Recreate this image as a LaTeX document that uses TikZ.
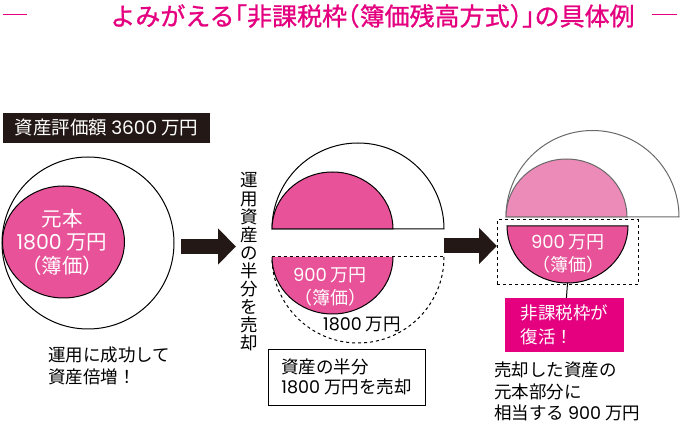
\documentclass[tikz,border=0pt]{standalone}
\usepackage{fontspec}
\setmainfont{Noto Sans CJK JP}
\newfontfamily\numfont{Poppins}
\newfontfamily\titlefont[FakeBold=1]{Noto Sans CJK JP}
\newcommand{\dg}[1]{{\numfont #1}}
\usetikzlibrary{arrows.meta,positioning,calc}
\definecolor{hpink}{RGB}{232,82,152}
\definecolor{hlight}{RGB}{236,138,184}
\definecolor{hmag}{RGB}{228,0,127}
\definecolor{hgray}{RGB}{105,105,105}
\definecolor{hblack}{RGB}{35,24,21}
\begin{document}
\begin{tikzpicture}[x=1pt,y=-1pt,
  lbl/.style={font=\fontsize{17.5}{21.5}\selectfont,align=left,inner sep=0pt},
  wlbl/.style={font=\fontsize{18}{23}\selectfont,text=white,align=center,inner sep=0pt},
  bigarrow/.style={hblack,line width=15pt,-{Triangle[length=18pt,width=35pt]}},
  half/.style={fill=hpink,draw=black,line width=1pt}]
  \useasboundingbox (0,0) rectangle (680,427);

  % title
  \node[font=\titlefont\fontsize{25}{28}\selectfont,text=hmag,inner sep=0pt] (title) at (372.5,16)
    {よみがえる\kern-.5em「非課税枠\kern-.5em（簿価残高方式）\kern-.5em」\kern-.5em の具体例};
  \draw[hmag,line width=0.8pt] (3,14) -- (27,14);
  \draw[hmag,line width=0.8pt] (652,14) -- (677,14);

  % before
  \node[fill=hblack,text=white,minimum width=207pt,minimum height=30pt,inner sep=0pt,
        font=\fontsize{18.5}{20}\selectfont] (value) at (106.5,128) {資産評価額 \dg{3600} 万円};
  \draw[line width=1pt] (88,243) circle (86);
  \draw[half] (63.5,242) ellipse [x radius=61, y radius=56];
  \node[wlbl,font=\fontsize{20.5}{23.5}\selectfont] (base1) at (62,242) {元本\\\dg{1800} 万円\\（簿価）};
  \node[lbl,anchor=west] (grow) at (48,366) {運用に成功して\\資産倍増！};

  \coordinate (a1s) at (181,246.5);
  \coordinate (a1e) at (236,246.5);
  \draw[bigarrow] (a1s) -- (a1e);

  % sell half
  \node[font=\fontsize{17.5}{18.1}\selectfont,align=center,inner sep=0pt] (sell) at (249,262) {運\\用\\資\\産\\の\\半\\分\\を\\売\\却};
  \draw[line width=1pt] (272,229) arc[start angle=180,end angle=360,radius=86] -- cycle;
  \draw[half] (272,229) arc[start angle=180,end angle=360,x radius=60.5,y radius=57] -- cycle;
  \draw[dashed,line width=1pt] (444,257) arc[start angle=0,end angle=180,radius=86];
  \fill[hpink] (272,257) arc[start angle=180,end angle=0,x radius=60.5,y radius=57] -- cycle;
  \draw[line width=1pt] (272,257) arc[start angle=180,end angle=0,x radius=60.5,y radius=57];
  \draw[dashed,line width=1pt] (272,257) -- (444,257);
  \node[wlbl] (bv2) at (330,286.5) {\dg{900} 万円\\（簿価）};
  \node[lbl] (sold) at (362,324) {\dg{1800} 万円};
  \node[draw,line width=0.8pt,minimum width=157pt,minimum height=56pt,inner sep=0pt,
        lbl,font=\fontsize{17.5}{20}\selectfont] (note2) at (346.5,377) {資産の半分\\\dg{1800} 万円を売却};

  \coordinate (a2s) at (444,246);
  \coordinate (a2e) at (497,246);
  \draw[bigarrow] (a2s) -- (a2e);

  % after
  \draw[hgray,line width=1pt] (506,217) arc[start angle=180,end angle=360,radius=86.5] -- cycle;
  \draw[hgray,fill=hlight,line width=1pt] (506,217) arc[start angle=180,end angle=360,x radius=60.5,y radius=58] -- cycle;
  \node[draw,dashed,line width=1pt,minimum width=141pt,minimum height=65pt] (frame) at (567.5,252.5) {};
  \draw[half] (507,226) arc[start angle=180,end angle=0,x radius=60.5,y radius=57] -- cycle;
  \coordinate (bot) at (567.5,283);
  \node[wlbl] (bv3) at (568,253.5) {\dg{900} 万円\\（簿価）};
  \node[fill=hmag,text=white,minimum width=119pt,minimum height=54pt,inner sep=0pt,
        lbl,font=\fontsize{17.5}{24}\selectfont] (revive) at (564.5,325) {非課税枠が\\復活！};
  \draw[line width=1pt] (bot) -- (revive);
  \node[lbl,anchor=north west] (expl) at (494,362) {売却した資産の\\元本部分に\\相当する \dg{900} 万円};
\end{tikzpicture}
\end{document}
